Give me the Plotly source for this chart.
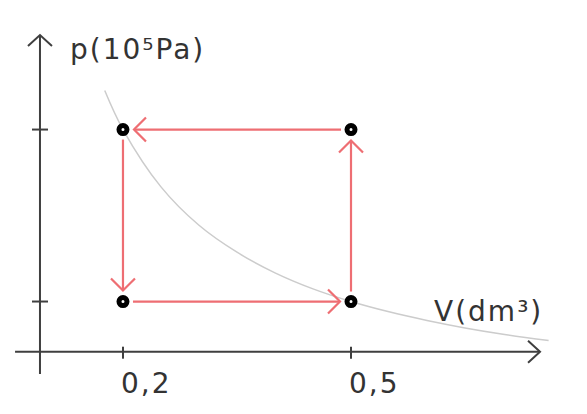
import plotly.graph_objects as go

# ---------------- data ----------------
V_states = [0.2, 0.5]            # dm^3
p_states = [2, 5]                # low, high (arbitrary units, unlabeled)
cycle_V = [0.5, 0.5, 0.2, 0.2, 0.5]
cycle_p = [2, 5, 5, 2, 2]
# isotherm
iso_V = [0.176, 0.2, 0.25, 0.3, 0.35, 0.4, 0.45, 0.5, 0.55, 0.6, 0.65, 0.7, 0.76]
iso_p = [5.68, 5.0, 4.0, 3.33, 2.86, 2.5, 2.22, 2.0, 1.82, 1.67, 1.54, 1.43, 1.32]
x_tick_vals = [0.2, 0.5]
x_tick_text = ["0,2", "0,5"]
y_tick_vals = [2, 5]
x_title = "V(dm³)"
y_title = "p(10⁵Pa)"

# ---------------- layout constants ----------------
W, H = 587, 414
XR = [0.0382, 0.8105]
YR = [0.038, 7.26]
sx = W / (XR[1] - XR[0])
sy = H / (YR[1] - YR[0])
V_axis, p_axis = 0.0908, 1.125          # axis crossing
x_axis_ext = [0.058, 0.7487]
y_axis_ext = [0.736, 6.649]

RED = "#ee6e73"
AX = "#3f3f3f"
TXT = "#333333"
FONT = "DejaVu Sans"


def spaced(t):
    return '<span style="letter-spacing:2px">' + t + '</span>'


def to_px(x, y):
    return (x - XR[0]) * sx, (y - YR[0]) * sy


def to_data(px, py):
    return px / sx + XR[0], py / sy + YR[0]


def arrow(x0, y0, x1, y1, gap0, gap1, hl, hw):
    a = to_px(x0, y0)
    b = to_px(x1, y1)
    dx, dy = b[0] - a[0], b[1] - a[1]
    L = (dx * dx + dy * dy) ** 0.5
    ux, uy = dx / L, dy / L
    nx, ny = -uy, ux
    s = (a[0] + ux * gap0, a[1] + uy * gap0)
    t = (b[0] - ux * gap1, b[1] - uy * gap1)
    w1 = (t[0] - ux * hl + nx * hw, t[1] - uy * hl + ny * hw)
    w2 = (t[0] - ux * hl - nx * hw, t[1] - uy * hl - ny * hw)
    pts = [s, t, None, w1, t, w2, None]
    xs, ys = [], []
    for p in pts:
        if p is None:
            xs.append(None); ys.append(None)
        else:
            d = to_data(*p)
            xs.append(d[0]); ys.append(d[1])
    return xs, ys


fig = go.Figure()

# isotherm
fig.add_trace(go.Scatter(x=iso_V, y=iso_p, mode="lines", line=dict(color="#cccccc", width=1.5, shape="spline"),
                         hoverinfo="skip"))

# coordinate axes with open arrow heads
ax_x, ax_y = arrow(x_axis_ext[0], p_axis, x_axis_ext[1], p_axis, 0, 0, 12, 11)
fig.add_trace(go.Scatter(x=ax_x, y=ax_y, mode="lines", line=dict(color=AX, width=2), hoverinfo="skip"))
ay_x, ay_y = arrow(V_axis, y_axis_ext[0], V_axis, y_axis_ext[1], 0, 0, 11, 12)
fig.add_trace(go.Scatter(x=ay_x, y=ay_y, mode="lines", line=dict(color=AX, width=2), hoverinfo="skip"))

# tick marks
tx, ty = [], []
for v in x_tick_vals:
    tx += [v, v, None]
    ty += [p_axis + 5 / sy, p_axis - 7 / sy, None]
for p in y_tick_vals:
    tx += [V_axis - 8 / sx, V_axis + 8 / sx, None]
    ty += [p, p, None]
fig.add_trace(go.Scatter(x=tx, y=ty, mode="lines", line=dict(color=AX, width=2), hoverinfo="skip"))

# cycle arrows
cx, cy = [], []
for i in range(len(cycle_V) - 1):
    xs, ys = arrow(cycle_V[i], cycle_p[i], cycle_V[i + 1], cycle_p[i + 1], 10, 11, 12, 12)
    cx += xs; cy += ys
fig.add_trace(go.Scatter(x=cx, y=cy, mode="lines", line=dict(color=RED, width=2.2), hoverinfo="skip"))

# state points
pvx = [v for v in V_states for _ in p_states]
pvy = [p for _ in V_states for p in p_states]
fig.add_trace(go.Scatter(x=pvx, y=pvy, mode="markers",
                         marker=dict(size=8, color="white", line=dict(color="black", width=5)),
                         hoverinfo="skip"))

# tick labels
for v, t in zip(x_tick_vals, x_tick_text):
    fig.add_annotation(x=v, y=p_axis, xref="x", yref="y", text=spaced(t), showarrow=False,
                       xanchor="left", yanchor="top", xshift=-4, yshift=-13,
                       font=dict(family=FONT, size=28, color=TXT))

# axis titles
fig.add_annotation(x=68 / W, y=1 - 50 / H, xref="paper", yref="paper", text=spaced(y_title), showarrow=False,
                   xanchor="left", yanchor="middle", font=dict(family=FONT, size=28, color=TXT))
fig.add_annotation(x=432 / W, y=1 - 311 / H, xref="paper", yref="paper", text=spaced(x_title), showarrow=False,
                   xanchor="left", yanchor="middle", font=dict(family=FONT, size=28, color=TXT))

fig.update_layout(width=W, height=H, margin=dict(l=0, r=0, t=0, b=0),
                  paper_bgcolor="white", plot_bgcolor="white", showlegend=False,
                  xaxis=dict(range=XR, visible=False, fixedrange=True),
                  yaxis=dict(range=YR, visible=False, fixedrange=True))

fig.write_html("out.html", config={"displayModeBar": False},
               post_script="document.body.style.margin='0px';document.body.style.overflow='hidden';")
